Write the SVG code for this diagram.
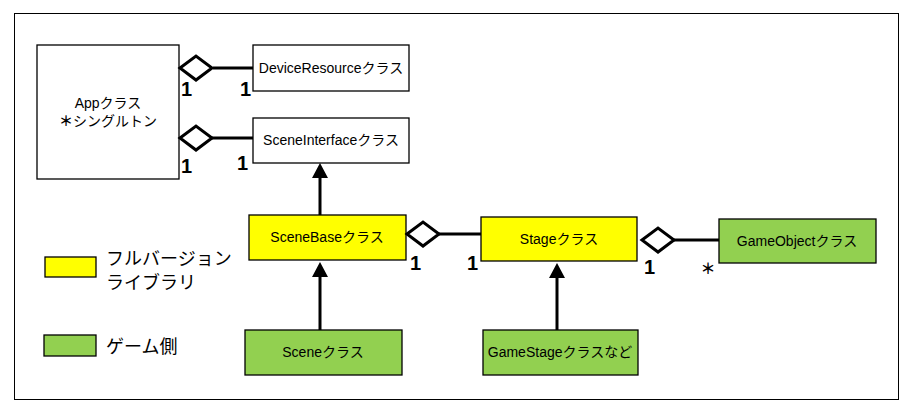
<svg xmlns="http://www.w3.org/2000/svg" width="913" height="414" viewBox="0 0 913 414">
<defs>
<style>
.box{stroke:#000;stroke-width:1.3}
.w{fill:#fff}.y{fill:#ffff00}.g{fill:#92d050}
.t{font-family:"Liberation Sans","Noto Sans CJK JP",sans-serif;font-size:14px;text-anchor:middle;fill:#000}
.n{font-family:"Liberation Sans",sans-serif;font-size:20px;font-weight:bold;fill:#000}
.lg{font-family:"Noto Sans CJK JP",sans-serif;font-size:18px;fill:#000}
.ast{font-family:"Noto Sans CJK JP",sans-serif;font-weight:bold;fill:#000}
.c{stroke:#000;stroke-width:3;fill:none}
.d{stroke:#000;stroke-width:3;fill:#fff;stroke-linejoin:miter}
</style>
</defs>
<rect x="0" y="0" width="913" height="414" fill="#fff"/>
<rect x="14.5" y="13.5" width="884" height="386" fill="none" stroke="#000" stroke-width="1"/>

<g id="app"><rect class="box w" x="37" y="45" width="142" height="134"/>
<text class="t" x="108" y="108">Appクラス</text><text class="t" x="108" y="126"><tspan class="ast">＊</tspan>シングルトン</text></g>
<g id="device"><rect class="box w" x="253" y="45" width="156" height="46"/>
<text class="t" x="331" y="73">DeviceResourceクラス</text></g>
<g id="sceneinterface"><rect class="box w" x="253" y="118" width="156" height="45"/>
<text class="t" x="331" y="145">SceneInterfaceクラス</text></g>
<g id="scenebase"><rect class="box y" x="249" y="215" width="157" height="45"/>
<text class="t" x="327" y="242">SceneBaseクラス</text></g>
<g id="stage"><rect class="box y" x="481" y="217" width="156" height="44"/>
<text class="t" x="559" y="244">Stageクラス</text></g>
<g id="gameobject"><rect class="box g" x="719" y="219" width="157" height="44"/>
<text class="t" x="797" y="246">GameObjectクラス</text></g>
<g id="scene"><rect class="box g" x="245" y="330" width="157" height="45"/>
<text class="t" x="323" y="357">Sceneクラス</text></g>
<g id="gamestage"><rect class="box g" x="483" y="330" width="155" height="45"/>
<text class="t" x="560" y="357">GameStageクラスなど</text></g>

<g id="legend">
<rect class="box y" x="45" y="257" width="51" height="20"/>
<text class="lg" x="106" y="265">フルバージョン</text>
<text class="lg" x="106" y="289">ライブラリ</text>
<rect class="box g" x="44" y="335" width="52" height="21"/>
<text class="lg" x="106" y="353">ゲーム側</text>
</g>

<g id="connectors">
<line class="c" x1="213" y1="68" x2="253" y2="68"/>
<path class="d" d="M180,68 L196,56 L212,68 L196,80 Z"/>
<line class="c" x1="212" y1="138" x2="253" y2="138"/>
<path class="d" d="M180,138 L196,126 L212,138 L196,150 Z"/>
<line class="c" x1="439" y1="234" x2="481" y2="234"/>
<path class="d" d="M407,234 L423,222 L439,234 L423,246 Z"/>
<line class="c" x1="674" y1="240" x2="719" y2="240"/>
<path class="d" d="M642,240 L658,228 L674,240 L658,252 Z"/>
<line class="c" x1="320" y1="215" x2="320" y2="176"/>
<path d="M312,178 L320,163 L328,178 Z" fill="#000"/>
<line class="c" x1="320" y1="330" x2="320" y2="275"/>
<path d="M312,277 L320,262 L328,277 Z" fill="#000"/>
<line class="c" x1="557" y1="330" x2="557" y2="276"/>
<path d="M549,278 L557,263 L565,278 Z" fill="#000"/>
<text class="n" x="181" y="96">1</text>
<text class="n" x="240" y="96">1</text>
<text class="n" x="181" y="173">1</text>
<text class="n" x="237" y="170">1</text>
<text class="n" x="410" y="270">1</text>
<text class="n" x="467" y="270">1</text>
<text class="n" x="644" y="274">1</text>
<text class="ast" x="708" y="274" text-anchor="middle" style="font-size:15px">＊</text>
</g>
</svg>
